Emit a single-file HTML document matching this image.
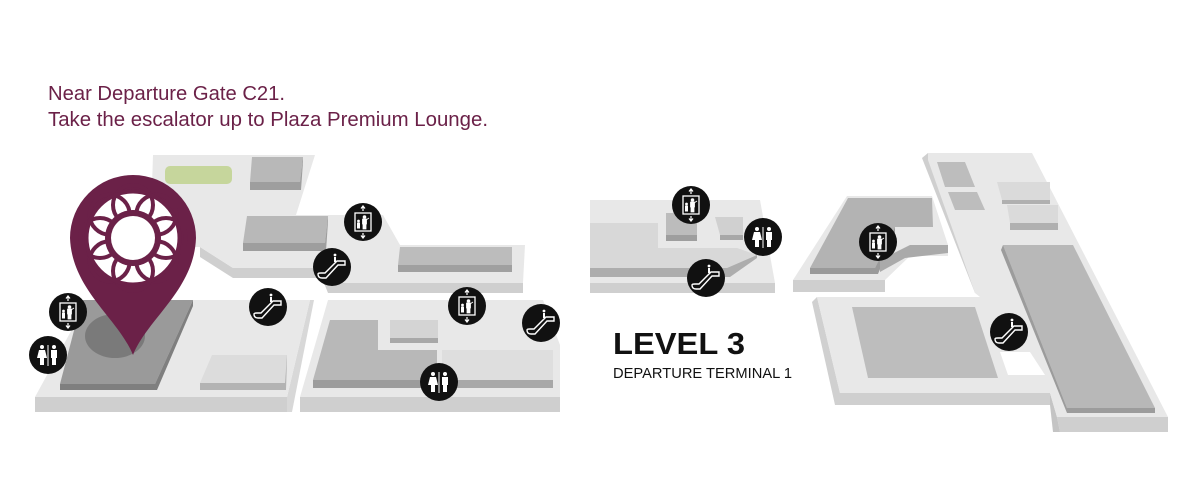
<!DOCTYPE html>
<html><head><meta charset="utf-8"><style>
html,body{margin:0;padding:0;background:#fff;}
svg{display:block;}
</style></head><body>
<svg width="1200" height="478" viewBox="0 0 1200 478" xmlns="http://www.w3.org/2000/svg">
<defs>
  <g id="elev">
    <circle r="19" fill="#111"/>
    <rect x="-8" y="-9" width="16" height="18" fill="none" stroke="#fff" stroke-width="1.3"/>
    <path d="M0,-16 V-11 M-2,-13.5 L0,-16 L2,-13.5 M0,16 V11 M-2,13.5 L0,16 L2,13.5" stroke="#fff" stroke-width="1.2" fill="none"/>
    <circle cx="-4.5" cy="-1" r="1.4" fill="#fff"/>
    <rect x="-6" y="0.5" width="3" height="6" fill="#fff"/>
    <circle cx="1.5" cy="-5" r="1.8" fill="#fff"/>
    <path d="M-0.5,-3 h4 v5 h-0.5 v5 h-3 v-5 h-0.5 z M3,-2 L6,-4" fill="#fff" stroke="#fff" stroke-width="0.8"/>
  </g>
  <g id="esc">
    <circle r="19" fill="#111"/>
    <path d="M-14,7 Q-14,11 -10,11 L-6,11 L6,-2 L13,-2 L13,-6 L5,-6 L-7,6 L-11,6 Q-14,6 -14,7 Z" fill="none" stroke="#fff" stroke-width="1.4"/>
    <circle cx="3" cy="-12" r="1.4" fill="#fff"/>
    <rect x="2" y="-10" width="2" height="5" fill="#fff"/>
  </g>
  <g id="wc">
    <circle r="19" fill="#111"/>
    <line x1="0" y1="-10" x2="0" y2="11" stroke="#fff" stroke-width="1"/>
    <circle cx="-6" cy="-8" r="2" fill="#fff"/>
    <path d="M-9,-5 h6 l2,8 h-3 v7 h-4 v-7 h-3 z" fill="#fff"/>
    <circle cx="6" cy="-8" r="2" fill="#fff"/>
    <path d="M3,-5 h6 v8 h-1 v7 h-4 v-7 h-1 z" fill="#fff"/>
  </g>
</defs>

<text x="48" y="100" font-family="Liberation Sans, sans-serif" font-size="20" fill="#6b2148" textLength="237" lengthAdjust="spacingAndGlyphs">Near Departure Gate C21.</text>
<text x="48" y="126" font-family="Liberation Sans, sans-serif" font-size="20" fill="#6b2148" textLength="440" lengthAdjust="spacingAndGlyphs">Take the escalator up to Plaza Premium Lounge.</text>

<!-- LEFT UPPER FLOOR -->
<polygon points="233,268 320,268 328,283 523,283 523,293 328,293 322,278 233,278 200,257 200,247" fill="#cfcfcf"/>
<polygon points="153,155 315,155 296,215 383,215 400,245 525,245 523,283 328,283 320,268 233,268 200,247 150,247" fill="#e8e8e8"/>
<rect x="165" y="166" width="67" height="18" rx="5" fill="#c6d69c"/>
<polygon points="252,157 303,157 300,182 250,182" fill="#b8b8b8"/>
<polygon points="250,182 300,182 303,157 303,162 301,190 250,190" fill="#9e9e9e"/>
<polygon points="247,216 328,216 325,243 243,243" fill="#b8b8b8"/>
<polygon points="243,243 325,243 328,216 328,222 326,251 243,251" fill="#9e9e9e"/>
<polygon points="400,247 512,247 512,265 398,265" fill="#bcbcbc"/>
<rect x="398" y="265" width="114" height="7" fill="#a0a0a0"/>

<!-- LEFT LOWER FLOOR -->
<polygon points="35,397 287,397 287,412 35,412" fill="#cfcfcf"/>
<polygon points="287,397 310,300 314,300 292,412 287,412" fill="#d8d8d8"/>
<polygon points="88,300 310,300 287,397 35,397" fill="#e8e8e8"/>
<polygon points="82,300 193,300 155,384 60,384" fill="#9a9a9a"/>
<polygon points="60,384 155,384 193,300 193,306 157,390 60,390" fill="#7f7f7f"/>
<ellipse cx="115" cy="336" rx="30" ry="22" fill="#7a7a7a"/>
<polygon points="212,355 287,355 285,383 200,383" fill="#dcdcdc"/>
<polygon points="200,383 285,383 287,355 287,360 286,390 200,390" fill="#b3b3b3"/>

<!-- MIDDLE LOWER FLOOR -->
<rect x="300" y="397" width="260" height="15" fill="#cfcfcf"/>
<polygon points="328,300 543,300 560,345 560,397 300,397" fill="#e8e8e8"/>
<polygon points="330,320 378,320 378,350 437,350 437,380 313,380" fill="#b8b8b8"/>
<rect x="313" y="380" width="124" height="8" fill="#9c9c9c"/>
<rect x="390" y="320" width="48" height="18" fill="#d4d4d4"/>
<rect x="390" y="338" width="48" height="5" fill="#a8a8a8"/>
<rect x="442" y="350" width="111" height="30" fill="#dedede"/>
<rect x="442" y="380" width="111" height="8" fill="#a8a8a8"/>

<!-- CENTER FLOOR -->
<rect x="590" y="283" width="185" height="10" fill="#cfcfcf"/>
<polygon points="590,200 760,200 775,283 590,283" fill="#e8e8e8"/>
<polygon points="590,223 658,223 658,248 737,248 757,255 727,268 590,268" fill="#d8d8d8"/>
<polygon points="590,268 727,268 757,255 757,258 730,277 590,277" fill="#adadad"/>
<rect x="666" y="213" width="31" height="22" fill="#bcbcbc"/>
<rect x="666" y="235" width="31" height="6" fill="#9e9e9e"/>
<polygon points="715,217 743,217 743,235 720,235" fill="#d0d0d0"/>
<rect x="720" y="235" width="23" height="5" fill="#a8a8a8"/>

<!-- RIGHT COMPLEX -->
<polygon points="793,280 885,280 885,292 793,292" fill="#cfcfcf"/>
<polygon points="847,196 932,196 948,245 948,256 910,256 885,280 793,280" fill="#e8e8e8"/>
<polygon points="848,198 932,198 933,227 895,227 875,268 810,268" fill="#b3b3b3"/>
<polygon points="810,268 875,268 895,227 895,233 878,274 810,274" fill="#9a9a9a"/>
<polygon points="910,245 948,245 948,253 905,258 880,272 880,260" fill="#aaaaaa"/>
<polygon points="922,158 928,153 980,293 975,293" fill="#cfcfcf"/>
<polygon points="812,302 817,297 840,393 840,405 835,405" fill="#d0d0d0"/>
<polygon points="840,393 1050,393 1050,405 840,405" fill="#cfcfcf"/>
<polygon points="1057,417 1168,417 1168,432 1060,432" fill="#cfcfcf"/>
<polygon points="1050,393 1057,417 1060,432 1053,432 1050,405" fill="#c4c4c4"/>
<polygon points="928,153 1032,153 1168,417 1057,417 1050,393 840,393 817,297 980,297 975,293 928,160" fill="#e8e8e8"/>
<polygon points="937,162 965,162 975,187 945,187" fill="#bdbdbd"/>
<polygon points="948,192 977,192 985,210 955,210" fill="#bdbdbd"/>
<polygon points="997,182 1050,182 1050,200 1002,200" fill="#dadada"/>
<rect x="1002" y="200" width="48" height="4" fill="#b0b0b0"/>
<polygon points="1007,205 1058,205 1058,223 1010,223" fill="#dadada"/>
<rect x="1010" y="223" width="48" height="7" fill="#b0b0b0"/>
<polygon points="1003,245 1073,245 1155,408 1067,408" fill="#b8b8b8"/>
<polygon points="1003,245 1067,408 1067,413 1001,250" fill="#9c9c9c"/>
<rect x="1067" y="408" width="88" height="5" fill="#9c9c9c"/>
<polygon points="852,307 975,307 998,378 868,378" fill="#bdbdbd"/>
<polygon points="1000,352 1030,352 1045,375 1008,375" fill="#ffffff"/>

<!-- PIN -->
<path d="M133,355 C118,318 72,290 70,238 A63,63 0 1 1 196,238 C194,290 148,318 133,355 Z" fill="#6b2148"/>
<circle cx="133" cy="238" r="45" fill="#fff"/>
<g fill="none" stroke="#6b2148" stroke-width="4">
  <circle cx="133" cy="205" r="20"/>
  <circle cx="156.3" cy="214.7" r="20"/>
  <circle cx="166" cy="238" r="20"/>
  <circle cx="156.3" cy="261.3" r="20"/>
  <circle cx="133" cy="271" r="20"/>
  <circle cx="109.7" cy="261.3" r="20"/>
  <circle cx="100" cy="238" r="20"/>
  <circle cx="109.7" cy="214.7" r="20"/>
</g>
<circle cx="133" cy="238" r="46.5" fill="none" stroke="#6b2148" stroke-width="4"/>
<circle cx="133" cy="238" r="28" fill="#6b2148"/>
<circle cx="133" cy="238" r="22" fill="#fff"/>

<!-- ICONS -->
<use href="#elev" x="363" y="222"/>
<use href="#esc" x="332" y="267"/>
<use href="#esc" x="268" y="307"/>
<use href="#elev" x="68" y="312"/>
<use href="#wc" x="48" y="355"/>
<use href="#elev" x="467" y="306"/>
<use href="#esc" x="541" y="323"/>
<use href="#wc" x="439" y="382"/>
<use href="#elev" x="691" y="205"/>
<use href="#wc" x="763" y="237"/>
<use href="#esc" x="706" y="278"/>
<use href="#elev" x="878" y="242"/>
<use href="#esc" x="1009" y="332"/>

<text x="613" y="354" font-family="Liberation Sans, sans-serif" font-size="31" font-weight="bold" fill="#111" textLength="132" lengthAdjust="spacingAndGlyphs">LEVEL 3</text>
<text x="613" y="378" font-family="Liberation Sans, sans-serif" font-size="15" fill="#111" textLength="179" lengthAdjust="spacingAndGlyphs">DEPARTURE TERMINAL 1</text>
</svg>
</body></html>
